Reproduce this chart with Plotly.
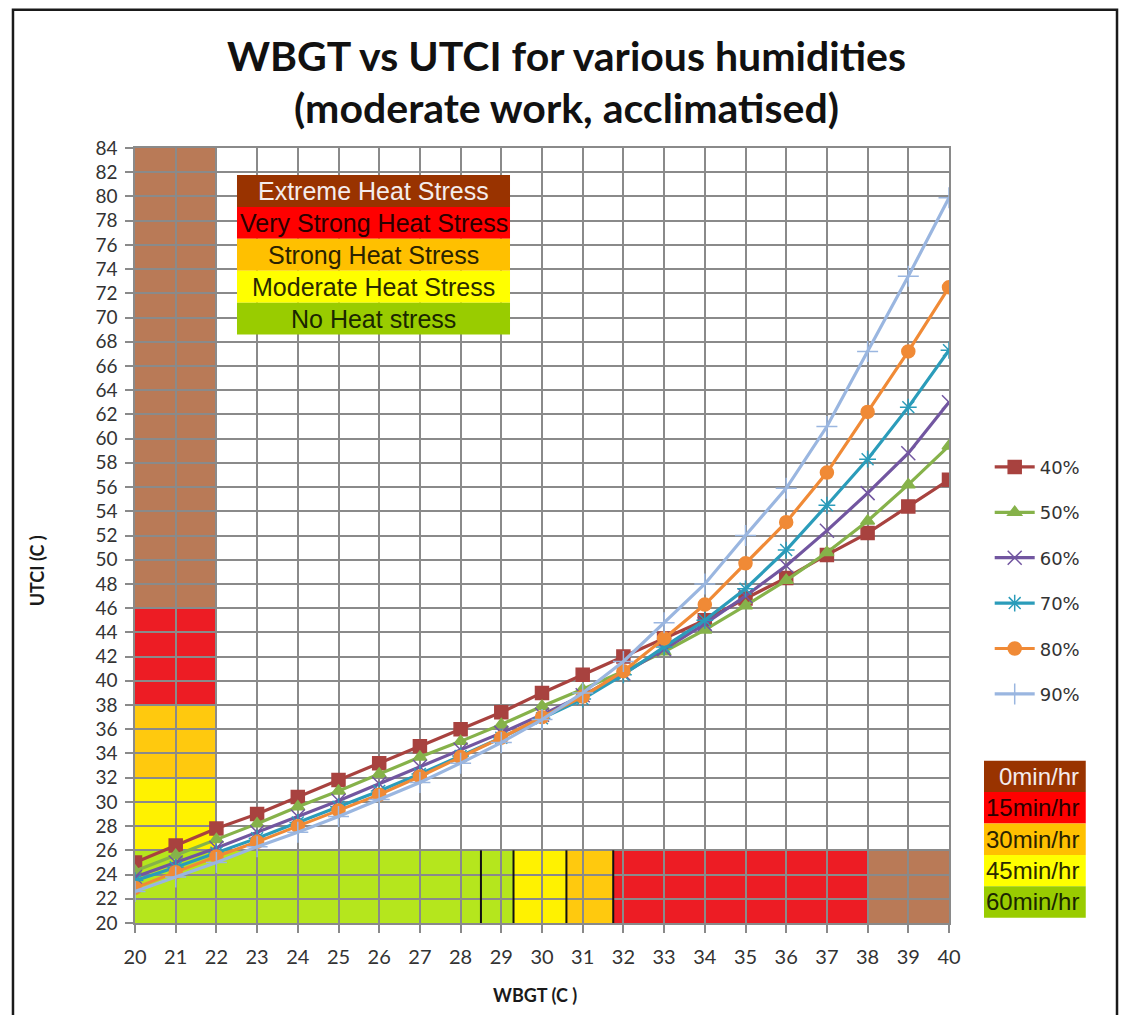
import plotly.graph_objects as go

# ---------------- data ----------------
wbgt = list(range(20, 41))
series_names = ["40%", "50%", "60%", "70%", "80%", "90%"]
utci_40 = [25.0, 26.4, 27.8, 29.0, 30.4, 31.8, 33.2, 34.6, 36.0, 37.4, 39.0, 40.5, 42.0, 43.5, 45.0, 46.8, 48.5, 50.4, 52.2, 54.4, 56.6]
utci_50 = [24.3, 25.6, 26.9, 28.2, 29.6, 30.9, 32.3, 33.7, 35.0, 36.4, 37.9, 39.3, 40.8, 42.4, 44.2, 46.2, 48.3, 50.6, 53.2, 56.2, 59.4]
utci_60 = [23.8, 25.0, 26.2, 27.5, 28.8, 30.1, 31.5, 32.9, 34.3, 35.7, 37.2, 38.8, 40.6, 42.6, 44.7, 47.0, 49.5, 52.4, 55.5, 58.8, 63.0]
utci_70 = [23.5, 24.6, 25.8, 27.0, 28.3, 29.6, 30.9, 32.3, 33.8, 35.3, 36.9, 38.5, 40.5, 42.8, 45.0, 47.6, 50.8, 54.5, 58.3, 62.6, 67.3]
utci_80 = [22.9, 24.2, 25.5, 26.7, 28.0, 29.3, 30.6, 32.1, 33.7, 35.3, 37.0, 38.7, 40.8, 43.5, 46.3, 49.7, 53.1, 57.2, 62.2, 67.2, 72.5]
utci_90 = [22.6, 23.8, 25.0, 26.3, 27.5, 28.8, 30.2, 31.6, 33.2, 34.9, 36.8, 39.0, 41.6, 44.8, 48.0, 52.0, 55.9, 61.0, 67.2, 73.4, 79.9]
series_values = [utci_40, utci_50, utci_60, utci_70, utci_80, utci_90]

# UTCI heat-stress categories (left column, WBGT 20-22)
utci_band_edges = [20, 26, 32, 38, 46, 84]
# WBGT work/rest bands (bottom strip, UTCI 20-26)
wbgt_band_edges = [20, 29.3, 30.6, 31.75, 38, 40]
wbgt_band_lines = [28.5, 29.3, 30.6, 31.75]
band_colors = ["#B5E61D", "#FFF200", "#FFC90E", "#ED1C24", "#B97A57"]

stress_labels = ["Extreme Heat Stress", "Very Strong Heat Stress", "Strong Heat Stress",
                 "Moderate Heat Stress", "No Heat stress"]
work_labels = ["0min/hr", "15min/hr", "30min/hr", "45min/hr", "60min/hr"]
key_colors = ["#993300", "#FF0000", "#FFC000", "#FFFF00", "#99CC00"]
key_text_colors = ["#F4ECEC", "#2a0000", "#2a2200", "#2a2a00", "#1a2600"]

x_ticks = list(range(20, 41))
y_ticks = list(range(20, 85, 2))

# ---------------- style ----------------
colors = ["#A8423F", "#86B24A", "#7256A0", "#2B9CBA", "#F08A36", "#9AB6E0"]
symbols = ["square", "triangle-up", "x-thin-open", "asterisk-open", "circle", "cross-thin-open"]
msizes = [13, 12, 14, 14, 13, 15]

fig = go.Figure()
for i, (name, vals) in enumerate(zip(series_names, series_values)):
    fig.add_trace(go.Scatter(
        x=wbgt, y=vals, name=name, mode="lines+markers",
        line=dict(color=colors[i], width=3.2),
        marker=dict(symbol=symbols[i], size=msizes[i], color=colors[i],
                    line=dict(color=colors[i], width=1.5)),
        legendgroup=name,
    ))

shapes = []
# left column bands
for j in range(1, len(utci_band_edges) - 1):
    shapes.append(dict(type="rect", xref="x", yref="y", x0=20, x1=22,
                       y0=utci_band_edges[j], y1=utci_band_edges[j + 1],
                       fillcolor=band_colors[j], line=dict(width=0), layer="below"))
# bottom strip bands
for j in range(len(wbgt_band_edges) - 1):
    shapes.append(dict(type="rect", xref="x", yref="y", x0=wbgt_band_edges[j],
                       x1=wbgt_band_edges[j + 1], y0=20, y1=26,
                       fillcolor=band_colors[j], line=dict(width=0), layer="below"))
for xv in wbgt_band_lines:
    shapes.append(dict(type="line", xref="x", yref="y", x0=xv, x1=xv, y0=20, y1=26,
                       line=dict(color="#111111", width=2), layer="above"))

annotations = []
# heat-stress key box (paper coords)
kx0, kx1 = 0.1253, 0.4607
ktop, krow = 0.9652, 0.0412
for j, lab in enumerate(stress_labels):
    y1 = ktop - j * krow
    y0 = y1 - krow
    shapes.append(dict(type="rect", xref="paper", yref="paper", x0=kx0, x1=kx1, y0=y0, y1=y1,
                       fillcolor=key_colors[j], line=dict(width=0), layer="above"))
    annotations.append(dict(xref="paper", yref="paper", x=(kx0 + kx1) / 2, y=(y0 + y1) / 2,
                            text=lab, showarrow=False, xanchor="center", yanchor="middle",
                            font=dict(family="Liberation Sans", size=25, color=key_text_colors[j])))
# work/rest key box
wx0, wx1 = 1.043, 1.168
wtop, wrow = 0.2094, 0.0405
for j, lab in enumerate(work_labels):
    y1 = wtop - j * wrow
    y0 = y1 - wrow
    shapes.append(dict(type="rect", xref="paper", yref="paper", x0=wx0, x1=wx1, y0=y0, y1=y1,
                       fillcolor=key_colors[j], line=dict(width=0), layer="above"))
    annotations.append(dict(xref="paper", yref="paper", x=wx1 - 0.006, y=(y0 + y1) / 2,
                            text=lab, showarrow=False, xanchor="right", yanchor="middle",
                            font=dict(family="Liberation Sans", size=24, color=key_text_colors[j])))

# chart border
shapes.append(dict(type="rect", xref="paper", yref="paper", x0=-0.1499, x1=1.2064,
                   y0=-0.2, y1=1.1785, line=dict(color="#1a1a1a", width=2.5), layer="above"))

# titles
annotations.append(dict(xref="paper", yref="paper", x=0.5307, y=1.1191,
                        text="WBGT vs UTCI for various humidities", showarrow=False,
                        xanchor="center", yanchor="middle",
                        font=dict(family="Lato", size=41, color="#111111", weight="bold")))
annotations.append(dict(xref="paper", yref="paper", x=0.5307, y=1.0520,
                        text="(moderate work, acclimatised)", showarrow=False,
                        xanchor="center", yanchor="middle",
                        font=dict(family="Lato", size=41, color="#111111", weight="bold")))
annotations.append(dict(xref="paper", yref="paper", x=0.4914, y=-0.0935,
                        text="WBGT (C )", showarrow=False, xanchor="center", yanchor="middle",
                        font=dict(family="Lato", size=18, color="#1a1a1a", weight="bold")))
annotations.append(dict(xref="paper", yref="paper", x=-0.1204, y=0.455,
                        text="UTCI (C )", showarrow=False, xanchor="center", yanchor="middle",
                        textangle=-90,
                        font=dict(family="Lato", size=18, color="#1a1a1a", weight="bold")))

grid_col = "#8a8a8a"
fig.update_layout(
    width=1111, height=1007, autosize=False,
    margin=dict(l=127, r=170, t=140, b=92),
    paper_bgcolor="white", plot_bgcolor="white",
    shapes=shapes, annotations=annotations,
    showlegend=True,
    legend=dict(x=1.05, y=0.612, xanchor="left", yanchor="top",
                font=dict(family="DejaVu Sans", size=18, color="#333333"),
                tracegroupgap=19, bgcolor="rgba(0,0,0,0)", itemwidth=40),
    xaxis=dict(range=[20, 40], tickvals=x_ticks, ticktext=[str(v) for v in x_ticks],
               showgrid=True, gridcolor=grid_col, gridwidth=1.5,
               showline=True, linecolor=grid_col, linewidth=1.5, mirror=True,
               ticks="outside", ticklen=8, tickcolor=grid_col, tickwidth=1.5,
               ticklabelstandoff=7, zeroline=False,
               tickfont=dict(family="Lato", size=20, color="#333333")),
    yaxis=dict(range=[20, 84], tickvals=y_ticks, ticktext=[str(v) for v in y_ticks],
               showgrid=True, gridcolor=grid_col, gridwidth=1.5,
               showline=True, linecolor=grid_col, linewidth=1.5, mirror=True,
               ticks="outside", ticklen=8, tickcolor=grid_col, tickwidth=1.5,
               ticklabelstandoff=4, zeroline=False,
               tickfont=dict(family="Lato", size=19, color="#333333")),
)

fig.write_html("out.html")
